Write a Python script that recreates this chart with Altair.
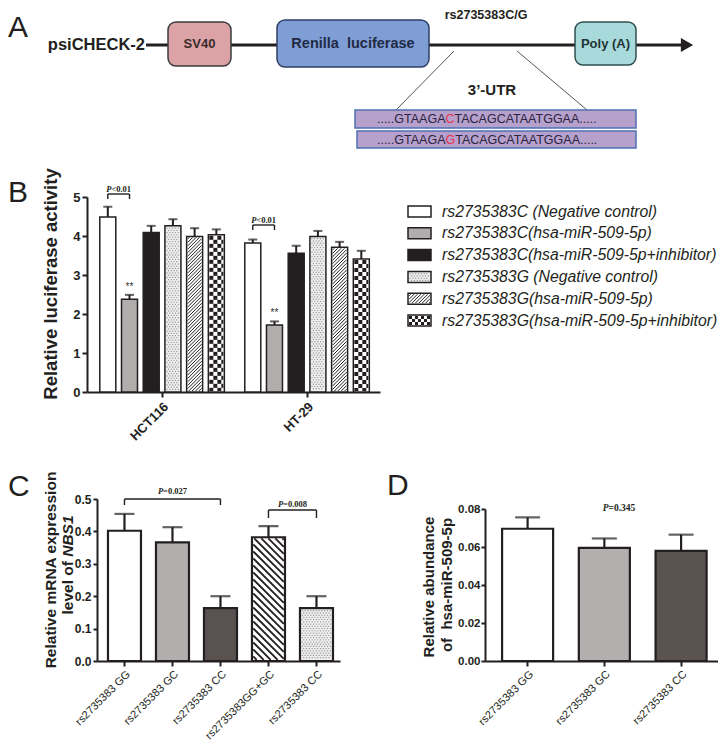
import altair as alt
import pandas as pd

# ---------------- data ----------------
cell_lines = ["HCT116", "HT-29"]
constructs = [
    "rs2735383C (Negative control)",
    "rs2735383C(hsa-miR-509-5p)",
    "rs2735383C(hsa-miR-509-5p+inhibitor)",
    "rs2735383G (Negative control)",
    "rs2735383G(hsa-miR-509-5p)",
    "rs2735383G(hsa-miR-509-5p+inhibitor)",
]
luc_hct116 = [4.49, 2.38, 4.09, 4.26, 3.99, 4.03]
luc_hct116_sem = [0.26, 0.11, 0.17, 0.17, 0.21, 0.14]
luc_ht29 = [3.82, 1.72, 3.56, 3.99, 3.71, 3.41]
luc_ht29_sem = [0.09, 0.09, 0.19, 0.14, 0.14, 0.21]
luc_ticks = [0, 1, 2, 3, 4, 5]

nbs1_keys = ["GG", "GC", "CC", "GG+GC", "CC2"]
nbs1_labels = ["rs2735383 GG", "rs2735383 GC", "rs2735383 CC", "rs2735383GG+GC", "rs2735383 CC"]
nbs1_mean = [0.402, 0.366, 0.163, 0.382, 0.163]
nbs1_sem = [0.052, 0.047, 0.037, 0.034, 0.037]
nbs1_ticks = [0.0, 0.1, 0.2, 0.3, 0.4, 0.5]

mir_labels = ["rs2735383 GG", "rs2735383 GC", "rs2735383 CC"]
mir_mean = [0.0696, 0.0595, 0.058]
mir_sem = [0.006, 0.005, 0.0085]
mir_ticks = [0.0, 0.02, 0.04, 0.06, 0.08]

p_b = ["<0.01", "<0.01"]
p_c = ["=0.027", "=0.008"]
p_d = ["=0.345"]

# ---------------- styling / layout (page pixels) ----------------
M = 8
W, H = 710, 736
DARK = "#231f20"
SANS = "Liberation Sans, Arial, sans-serif"
SERIF = "Liberation Serif, Times New Roman, serif"
NB = "\u00a0"

B_X, B_Y, B_TOP = (87, 380), (392, 197), 5
C_X, C_Y, C_TOP = (97, 340), (661, 499), 0.5
D_X, D_Y, D_TOP = (485, 718), (661, 509), 0.08
B_BAND, B_SUB_PIN = (0.141, 0.081, 0.545), 0.263
C_BAND = (0.3125, 0.1875, 0.61)
D_BAND = (0.335, 0.1855, 0.6)

B_FILLS = ["white", "#b1adac", DARK, "#eeeeee", "white", "white"]
C_FILLS = ["white", "#b3aeae", "#595251", "white", "#eeeeee"]
D_FILLS = ["white", "#b4afaf", "#5b5350"]


def rng(a, b):
    return [a - M, b - M]


def band(n, r0, r1, pin, pout, align):
    span = r1 - r0
    step = span / (n - pin + 2 * pout)
    start = r0 + (span - step * (n - pin)) * align
    return [start + i * step for i in range(n)], step * (1 - pin)


def yval(v, ypix, top):
    return ypix[0] + (ypix[1] - ypix[0]) * v / top


PX = alt.Scale(domain=[M, M + W], range=[0, W], nice=False, zero=False)
PY = alt.Scale(domain=[M, M + H], range=[0, H], nice=False, zero=False)


def y_axis(x_page, values, fmt, size, tick=5, pad=2):
    return alt.Axis(orient="left", offset=-(x_page - M), values=values, format=fmt, title="",
                    grid=False, domainColor=DARK, domainWidth=2, tickColor=DARK, tickWidth=2,
                    tickSize=tick, labelColor=DARK, labelFont=SANS, labelFontWeight="bold",
                    labelFontSize=size, labelPadding=pad)


def x_axis(y_page, size, weight, expr=None, pad=3):
    kw = dict(orient="bottom", offset=(y_page - M) - H, title="", labelAngle=-45, grid=False,
              domainColor=DARK, domainWidth=2, tickColor=DARK, tickWidth=2, tickSize=5,
              labelColor=DARK, labelFont=SANS, labelFontWeight=weight, labelFontSize=size,
              labelPadding=pad)
    if expr:
        kw["labelExpr"] = expr
    return alt.Axis(**kw)


# ---------------- pattern helpers (decoration inside bars) ----------------
def pat_dots(x0, x1, y0, y1, sp, color, size, out):
    r = 0
    y = y0 + sp * 0.45
    while y < y1 - 0.4:
        x = x0 + sp * 0.4 + (sp / 2 if r % 2 else 0)
        while x < x1 - 0.4:
            out.append(dict(x=x, y=y, fill=color, size=size))
            x += sp
        y += sp * 0.8
        r += 1


def pat_hatch(x0, x1, y0, y1, sp, kind, color, sw, out):
    if kind == "/":
        c = x0 + y0 + sp / 2
        while c < x1 + y1:
            xa, xb = max(x0, c - y1), min(x1, c - y0)
            if xb > xa:
                out.append(dict(x0=xa, y0=c - xa, x1=xb, y1=c - xb, stroke=color, sw=sw))
            c += sp
    else:
        c = x0 - y1 + sp / 2
        while c < x1 - y0:
            xa, xb = max(x0, c + y0), min(x1, c + y1)
            if xb > xa:
                out.append(dict(x0=xa, y0=xa - c, x1=xb, y1=xb - c, stroke=color, sw=sw))
            c += sp


def pat_checker(x0, x1, y0, y1, cell, color, out):
    j = 0
    y = y0
    while y < y1:
        i = 0
        x = x0
        while x < x1:
            if (i + j) % 2 == 0:
                out.append(dict(x0=x, x1=min(x + cell, x1), y0=y, y1=min(y + cell, y1),
                                fill=color, stroke=color, sw=0))
            x += cell
            i += 1
        y += cell
        j += 1


def add_pattern(kind, x0, x1, y0, y1, rects, rules, dots, small=False):
    if kind == "dots":
        pat_dots(x0, x1, y0, y1, 2.8, "#8a8a8a", 1.6, dots)
    elif kind == "hatch/":
        pat_hatch(x0, x1, y0, y1, 3.4, "/", DARK, 1.0, rules)
    elif kind == "checker":
        pat_checker(x0, x1, y0, y1, 3.0 if small else 4.0, DARK, rects)
    elif kind == "hatch\\":
        pat_hatch(x0, x1, y0, y1, 7.0, "\\", DARK, 1.8, rules)


B_PATTERNS = [None, None, None, "dots", "hatch/", "checker"]
C_PATTERNS = [None, None, None, "hatch\\", "dots"]

pat_rects, pat_rules, pat_dots_rows = [], [], []
base_rects = []

# ---------------- panel B ----------------
b_rows = []
g_starts, g_bw = band(2, B_X[0], B_X[1], *B_BAND)
o_starts, o_bw = band(6, 0, g_bw, B_SUB_PIN, 0, 0.5)
for g, (cl, means, sems) in enumerate(zip(cell_lines, [luc_hct116, luc_ht29],
                                           [luc_hct116_sem, luc_ht29_sem])):
    for j, c in enumerate(constructs):
        b_rows.append(dict(cell=cl, construct=c, mean=means[j], upper=means[j] + sems[j],
                           fill=B_FILLS[j]))
        if B_PATTERNS[j]:
            x0 = g_starts[g] + o_starts[j]
            add_pattern(B_PATTERNS[j], x0 + 1, x0 + o_bw - 1, yval(means[j], B_Y, B_TOP) + 1,
                        B_Y[0] - 1, pat_rects, pat_rules, pat_dots_rows)
dfB = pd.DataFrame(b_rows)

bx = alt.Scale(domain=cell_lines, range=rng(*B_X), paddingInner=B_BAND[0],
               paddingOuter=B_BAND[1], align=B_BAND[2])
bxo = alt.Scale(domain=constructs, paddingInner=B_SUB_PIN, paddingOuter=0)
by = alt.Scale(domain=[0, B_TOP], range=rng(*B_Y), nice=False, zero=False)

b_bars = alt.Chart(dfB).mark_bar(stroke=DARK, strokeWidth=1.5).encode(
    x=alt.X("cell:N", scale=bx, axis=x_axis(B_Y[0], 13, "bold")),
    xOffset=alt.XOffset("construct:N", scale=bxo),
    y=alt.Y("mean:Q", scale=by, axis=y_axis(B_X[0], luc_ticks, "d", 13)),
    fill=alt.Fill("fill:N", scale=None),
)
b_err = alt.Chart(dfB).mark_rule(color=DARK, strokeWidth=2).encode(
    x=alt.X("cell:N", scale=bx, axis=None),
    xOffset=alt.XOffset("construct:N", scale=bxo),
    y=alt.Y("mean:Q", scale=by, axis=None), y2="upper:Q")
b_cap = alt.Chart(dfB).mark_tick(color=DARK, thickness=2, size=9, orient="horizontal").encode(
    x=alt.X("cell:N", scale=bx, axis=None),
    xOffset=alt.XOffset("construct:N", scale=bxo),
    y=alt.Y("upper:Q", scale=by, axis=None))

# ---------------- panel C ----------------
c_starts, c_bw = band(5, C_X[0], C_X[1], *C_BAND)
c_rows = []
for i, k in enumerate(nbs1_keys):
    c_rows.append(dict(key=k, mean=nbs1_mean[i], upper=nbs1_mean[i] + nbs1_sem[i], fill=C_FILLS[i]))
    if C_PATTERNS[i]:
        add_pattern(C_PATTERNS[i], c_starts[i] + 1.2, c_starts[i] + c_bw - 1.2,
                    yval(nbs1_mean[i], C_Y, C_TOP) + 1.2, C_Y[0] - 1.2,
                    pat_rects, pat_rules, pat_dots_rows)
dfC = pd.DataFrame(c_rows)
c_expr = "[" + ",".join("'%s'" % s for s in nbs1_labels) + "][indexof([" + \
    ",".join("'%s'" % s for s in nbs1_keys) + "], datum.value)]"
cx = alt.Scale(domain=nbs1_keys, range=rng(*C_X), paddingInner=C_BAND[0],
               paddingOuter=C_BAND[1], align=C_BAND[2])
cy = alt.Scale(domain=[0, C_TOP], range=rng(*C_Y), nice=False, zero=False)
c_bars = alt.Chart(dfC).mark_bar(stroke=DARK, strokeWidth=2.2).encode(
    x=alt.X("key:N", scale=cx, axis=x_axis(C_Y[0], 11, "normal", c_expr, pad=2)),
    y=alt.Y("mean:Q", scale=cy, axis=y_axis(C_X[0], nbs1_ticks, ".1f", 12, tick=4, pad=2)),
    fill=alt.Fill("fill:N", scale=None))
c_err = alt.Chart(dfC).mark_rule(color=DARK, strokeWidth=2.2).encode(
    x=alt.X("key:N", scale=cx, axis=None), y=alt.Y("mean:Q", scale=cy, axis=None), y2="upper:Q")
c_cap = alt.Chart(dfC).mark_tick(color=DARK, thickness=2.2, size=20, orient="horizontal").encode(
    x=alt.X("key:N", scale=cx, axis=None), y=alt.Y("upper:Q", scale=cy, axis=None))

# ---------------- panel D ----------------
dfD = pd.DataFrame(dict(key=mir_labels, mean=mir_mean,
                        upper=[m + s for m, s in zip(mir_mean, mir_sem)], fill=D_FILLS))
dx = alt.Scale(domain=mir_labels, range=rng(*D_X), paddingInner=D_BAND[0],
               paddingOuter=D_BAND[1], align=D_BAND[2])
dy = alt.Scale(domain=[0, D_TOP], range=rng(*D_Y), nice=False, zero=False)
d_bars = alt.Chart(dfD).mark_bar(stroke=DARK, strokeWidth=2.2).encode(
    x=alt.X("key:N", scale=dx, axis=x_axis(D_Y[0], 11, "normal", pad=2)),
    y=alt.Y("mean:Q", scale=dy, axis=y_axis(D_X[0], mir_ticks, ".2f", 11.5, tick=4, pad=1)),
    fill=alt.Fill("fill:N", scale=None))
d_err = alt.Chart(dfD).mark_rule(color=DARK, strokeWidth=2.2).encode(
    x=alt.X("key:N", scale=dx, axis=None), y=alt.Y("mean:Q", scale=dy, axis=None), y2="upper:Q")
d_cap = alt.Chart(dfD).mark_tick(color=DARK, thickness=2.2, size=25, orient="horizontal").encode(
    x=alt.X("key:N", scale=dx, axis=None), y=alt.Y("upper:Q", scale=dy, axis=None))

# ---------------- legend for B ----------------
LEG_Y0, LEG_DY = 211.5, 21.8
legend_text = []
for j, c in enumerate(constructs):
    yc = LEG_Y0 + LEG_DY * j
    base_rects.append(dict(x0=408, x1=431, y0=yc - 5.5, y1=yc + 5.5, fill=B_FILLS[j], stroke=DARK, sw=1.5))
    if B_PATTERNS[j]:
        add_pattern(B_PATTERNS[j], 409, 430, yc - 4.5, yc + 4.5, pat_rects, pat_rules,
                    pat_dots_rows, small=True)
    legend_text.append(dict(x=442, y=yc, text=c, size=15.8, color=DARK))

# ---------------- brackets (B, C) ----------------
bracket_rules = []
def bracket(xa, xb, y, drop):
    bracket_rules.append(dict(x0=xa, y0=y, x1=xb, y1=y, stroke=DARK, sw=1.4))
    bracket_rules.append(dict(x0=xa, y0=y, x1=xa, y1=y + drop, stroke=DARK, sw=1.4))
    bracket_rules.append(dict(x0=xb, y0=y, x1=xb, y1=y + drop, stroke=DARK, sw=1.4))

b_centers = [[g_starts[g] + o_starts[j] + o_bw / 2 for j in range(6)] for g in range(2)]
bracket(b_centers[0][0], b_centers[0][1], 194, 5)
bracket(b_centers[1][0], b_centers[1][1], 225, 5)
c_centers = [s + c_bw / 2 for s in c_starts]
bracket(c_centers[0], c_centers[2], 499, 6)
bracket(c_centers[3], c_centers[4], 510, 8)


def tw_times(s, size):
    w = {"<": 0.570, "=": 0.570, ".": 0.25}
    return sum(w.get(ch, 0.5) for ch in s) * size


p_italic, p_rest = [], []
def ptext(xc, yb, rest, size):
    wp = 0.611 * size
    total = wp + tw_times(rest, size)
    xa = xc - total / 2 + wp
    p_italic.append(dict(x=xa, y=yb, text="P", size=size, color=DARK))
    p_rest.append(dict(x=xa, y=yb, text=rest, size=size, color=DARK))

ptext((b_centers[0][0] + b_centers[0][1]) / 2, 191.5, p_b[0], 8.5)
ptext((b_centers[1][0] + b_centers[1][1]) / 2, 222.5, p_b[1], 8.5)
ptext((c_centers[0] + c_centers[2]) / 2, 494, p_c[0], 8.5)
ptext((c_centers[3] + c_centers[4]) / 2, 506.5, p_c[1], 8.5)
ptext(619, 511, p_d[0], 9.5)

stars = [dict(x=b_centers[0][1], y=yval(luc_hct116[1] + luc_hct116_sem[1], B_Y, B_TOP) - 5,
              text="**", size=10, color="#333333"),
         dict(x=b_centers[1][1], y=yval(luc_ht29[1] + luc_ht29_sem[1], B_Y, B_TOP) - 5,
              text="**", size=10, color="#333333")]

# ---------------- panel A (schematic) ----------------
a_back_rules = [
    dict(x0=146, y0=45, x1=684, y1=45, stroke=DARK, sw=3),
    dict(x0=454, y0=51, x1=396, y1=110, stroke="#555555", sw=1),
    dict(x0=517, y0=51, x1=587, y1=110, stroke="#555555", sw=1),
]
a_boxes = [
    dict(x0=168, x1=231, y0=22, y1=66, fill="#dba3a6", stroke="#3b3b3b", sw=1.5),
    dict(x0=277, x1=429, y0=20, y1=67, fill="#7f9ed6", stroke="#2f3f66", sw=1.5),
    dict(x0=575, x1=636, y0=22, y1=65, fill="#a9dadb", stroke="#2f4f4f", sw=1.5),
]
seq_boxes = [
    dict(x0=355, x1=636, y0=110, y1=128, fill="#b6a0cc", stroke="#4f6fb5", sw=1.5),
    dict(x0=357, x1=636, y0=131, y1=148, fill="#b6a0cc", stroke="#4f6fb5", sw=1.5),
]
base_rects = seq_boxes + base_rects
arrow = [dict(x=687, y=45)]

a_bold_center = [
    dict(x=199.5, y=44, text="SV40", size=13, color="#3a2a2a"),
    dict(x=353, y=44, text="Renilla" + NB + NB + "luciferase", size=14.5, color="#1f2a44"),
    dict(x=605.5, y=44, text="Poly (A)", size=13, color="#1f3535"),
    dict(x=486, y=15, text="rs2735383C/G", size=12.5, color=DARK),
    dict(x=492, y=90, text="3\u2019-UTR", size=15, color=DARK),
]
psi = [dict(x=145, y=45, text="psiCHECK-2", size=16.5, color=DARK)]

seq_prefix, seq_snp, seq_suffix = ".....GTAAGA", ["C", "G"], "TACAGCATAATGGAA....."
SEQ_SIZE = 12.5
seq_x0 = 376
pre_w = 5.558 * SEQ_SIZE
snp_w = {"C": 0.722 * SEQ_SIZE, "G": 0.778 * SEQ_SIZE}
seq_right, seq_left = [], []
for yc, s in zip([119, 139.5], seq_snp):
    seq_right.append(dict(x=seq_x0 + pre_w, y=yc, text=seq_prefix, size=SEQ_SIZE, color="#2a2440"))
    seq_left.append(dict(x=seq_x0 + pre_w, y=yc, text=s, size=SEQ_SIZE, color="#e8344a"))
    seq_left.append(dict(x=seq_x0 + pre_w + snp_w[s], y=yc, text=seq_suffix, size=SEQ_SIZE, color="#2a2440"))

letters = [
    dict(x=8, y=37, text="A", size=30, color=DARK),
    dict(x=8, y=202, text="B", size=30, color=DARK),
    dict(x=8, y=496, text="C", size=30, color=DARK),
    dict(x=387, y=495, text="D", size=30, color=DARK),
]

# axis titles (rotated)
titles = [
    dict(x=51, y=284, text="Relative luciferase activity", size=18.5, color=DARK),
    dict(x=51, y=570, text="Relative mRNA expression", size=15.5, color=DARK),
    dict(x=429, y=587, text="Relative abundance", size=15, color=DARK),
    dict(x=447, y=585, text="of" + NB + NB + "hsa-miR-509-5p", size=15, color=DARK),
]
T2 = 15.5
t2_total = (3.446 + 0.278 + 2.667) * T2
t2_anchor = 565 + t2_total / 2 - 3.446 * T2
title_lvl = [dict(x=68, y=t2_anchor, text="level of", size=T2, color=DARK)]
title_nbs = [dict(x=68, y=t2_anchor - 0.278 * T2, text="NBS1", size=T2, color=DARK)]


# ---------------- pixel-layer builders ----------------
def rect_layer(rows, **mk):
    return alt.Chart(pd.DataFrame(rows)).mark_rect(**mk).encode(
        x=alt.X("x0:Q", scale=PX, axis=None), x2="x1:Q",
        y=alt.Y("y0:Q", scale=PY, axis=None), y2="y1:Q",
        fill=alt.Fill("fill:N", scale=None), stroke=alt.Stroke("stroke:N", scale=None),
        strokeWidth=alt.StrokeWidth("sw:Q", scale=None))


def rule_layer(rows):
    return alt.Chart(pd.DataFrame(rows)).mark_rule(strokeCap="butt").encode(
        x=alt.X("x0:Q", scale=PX, axis=None), x2="x1:Q",
        y=alt.Y("y0:Q", scale=PY, axis=None), y2="y1:Q",
        stroke=alt.Stroke("stroke:N", scale=None),
        strokeWidth=alt.StrokeWidth("sw:Q", scale=None))


def text_layer(rows, **mk):
    return alt.Chart(pd.DataFrame(rows)).mark_text(**mk).encode(
        x=alt.X("x:Q", scale=PX, axis=None), y=alt.Y("y:Q", scale=PY, axis=None),
        text="text:N", size=alt.Size("size:Q", scale=None),
        color=alt.Color("color:N", scale=None))


dots_layer = alt.Chart(pd.DataFrame(pat_dots_rows)).mark_circle(opacity=1).encode(
    x=alt.X("x:Q", scale=PX, axis=None), y=alt.Y("y:Q", scale=PY, axis=None),
    fill=alt.Fill("fill:N", scale=None), size=alt.Size("size:Q", scale=None))

arrow_layer = alt.Chart(pd.DataFrame(arrow)).mark_point(
    shape="triangle-right", filled=True, size=200, color=DARK, opacity=1).encode(
    x=alt.X("x:Q", scale=PX, axis=None), y=alt.Y("y:Q", scale=PY, axis=None))

layers = [
    rule_layer(a_back_rules),
    rect_layer(a_boxes, cornerRadius=8),
    arrow_layer,
    rect_layer(base_rects),
    b_bars, c_bars, d_bars,
    rect_layer(pat_rects),
    dots_layer,
    rule_layer(pat_rules),
    b_err, b_cap, c_err, c_cap, d_err, d_cap,
    rule_layer(bracket_rules),
    text_layer(a_bold_center, font=SANS, fontWeight="bold", align="center", baseline="middle"),
    text_layer(psi, font=SANS, fontWeight="bold", align="right", baseline="middle"),
    text_layer(seq_right, font=SANS, align="right", baseline="middle"),
    text_layer(seq_left, font=SANS, align="left", baseline="middle"),
    text_layer(letters, font=SANS, align="left", baseline="alphabetic"),
    text_layer(legend_text, font=SANS, fontStyle="italic", align="left", baseline="middle"),
    text_layer(p_italic, font=SERIF, fontWeight="bold", fontStyle="italic", align="right",
               baseline="alphabetic"),
    text_layer(p_rest, font=SERIF, fontWeight="bold", align="left", baseline="alphabetic"),
    text_layer(stars, font=SANS, align="center", baseline="alphabetic"),
    text_layer(titles, font=SANS, fontWeight="bold", angle=270, align="center", baseline="middle"),
    text_layer(title_lvl, font=SANS, fontWeight="bold", angle=270, align="right", baseline="middle"),
    text_layer(title_nbs, font=SANS, fontWeight="bold", fontStyle="italic", angle=270,
               align="left", baseline="middle"),
]

chart = alt.layer(*layers).resolve_scale(
    x="independent", y="independent", xOffset="independent"
).resolve_axis(
    x="independent", y="independent"
).properties(
    width=W, height=H, padding=0, background="white",
    autosize=alt.AutoSizeParams(type="none"),
).configure_view(strokeWidth=0)

chart.save("out.html", embed_options={"renderer": "svg", "actions": False})
